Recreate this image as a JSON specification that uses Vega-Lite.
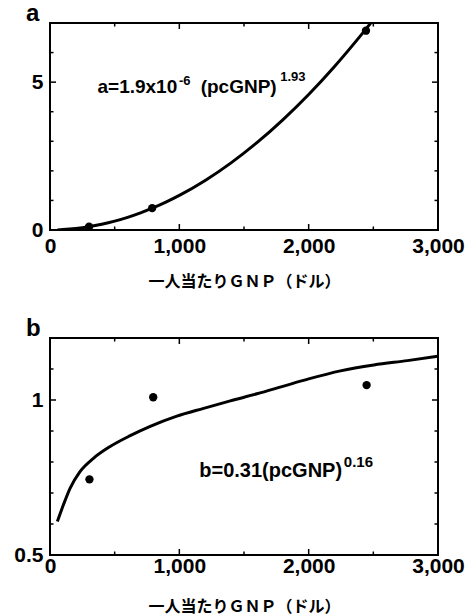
{
  "$schema": "https://vega.github.io/schema/vega-lite/v6.json",
  "padding": {"left": 12, "top": 1, "right": 4, "bottom": 0},
  "config": {
    "view": {"stroke": "black", "strokeWidth": 2},
    "font": "Liberation Sans",
    "axis": {"domain": false, "grid": false, "ticks": false, "labelFont": "Liberation Sans", "labelFontSize": 21, "labelFontWeight": "bold", "labelColor": "black", "minExtent": 0, "labelOverlap": false, "labelFlush": false, "titleFont": "Noto Sans CJK JP", "titleFontSize": 16, "titleFontWeight": "bold", "titleColor": "black"},
    "concat": {"spacing": 26},
    "title": {"font": "Liberation Sans", "fontSize": 24, "fontWeight": "bold", "color": "black", "anchor": "start", "frame": "group"}
  },
  "datasets": {
    "curveA": [
      {"gnp": 57, "a": 0.004}, {"gnp": 100, "a": 0.013}, {"gnp": 200, "a": 0.049}, {"gnp": 300, "a": 0.109},
      {"gnp": 400, "a": 0.193}, {"gnp": 500, "a": 0.299}, {"gnp": 600, "a": 0.428}, {"gnp": 700, "a": 0.58},
      {"gnp": 800, "a": 0.754}, {"gnp": 900, "a": 0.951}, {"gnp": 1000, "a": 1.17}, {"gnp": 1200, "a": 1.676},
      {"gnp": 1400, "a": 2.27}, {"gnp": 1600, "a": 2.954}, {"gnp": 1800, "a": 3.726}, {"gnp": 2000, "a": 4.584},
      {"gnp": 2200, "a": 5.532}, {"gnp": 2400, "a": 6.566}, {"gnp": 2480, "a": 7.0}
    ],
    "ptsA": [
      {"gnp": 302, "a": 0.11}, {"gnp": 790, "a": 0.74}, {"gnp": 2443, "a": 6.74}
    ],
    "curveB": [
      {"gnp": 57, "b": 0.608}, {"gnp": 103, "b": 0.661}, {"gnp": 155, "b": 0.715}, {"gnp": 232, "b": 0.769},
      {"gnp": 336, "b": 0.812}, {"gnp": 465, "b": 0.85}, {"gnp": 620, "b": 0.885}, {"gnp": 775, "b": 0.915},
      {"gnp": 981, "b": 0.948}, {"gnp": 1188, "b": 0.973}, {"gnp": 1394, "b": 0.997}, {"gnp": 1600, "b": 1.02},
      {"gnp": 1800, "b": 1.044}, {"gnp": 2000, "b": 1.068}, {"gnp": 2246, "b": 1.094}, {"gnp": 2504, "b": 1.113},
      {"gnp": 2763, "b": 1.127}, {"gnp": 3000, "b": 1.141}
    ],
    "ptsB": [
      {"gnp": 305, "b": 0.744}, {"gnp": 798, "b": 1.009}, {"gnp": 2448, "b": 1.048}
    ],
    "xticks": [{"v": 0}, {"v": 500}, {"v": 1000}, {"v": 1500}, {"v": 2000}, {"v": 2500}, {"v": 3000}],
    "yticksA": [{"v": 0}, {"v": 1}, {"v": 2}, {"v": 3}, {"v": 4}, {"v": 5}, {"v": 6}, {"v": 7}],
    "yticksB": [{"v": 0.5}, {"v": 0.6}, {"v": 0.7}, {"v": 0.8}, {"v": 0.9}, {"v": 1.0}, {"v": 1.1}, {"v": 1.2}]
  },
  "vconcat": [
    {
      "width": 388,
      "height": 207,
      "title": {"text": "a", "dx": -24, "offset": -3},
      "layer": [
        {
          "data": {"name": "curveA"},
          "mark": {"type": "line", "color": "black", "strokeWidth": 3, "clip": true, "interpolate": "monotone"},
          "encoding": {
            "x": {"field": "gnp", "type": "quantitative", "scale": {"domain": [0, 3000], "nice": false},
              "axis": {"orient": "bottom", "values": [0, 1000, 2000, 3000], "format": ",d",
                "labelPadding": 5, "title": "一人当たりＧＮＰ（ドル）", "titlePadding": 17}},
            "y": {"field": "a", "type": "quantitative", "scale": {"domain": [0, 7], "nice": false},
              "axis": {"orient": "left", "values": [0, 5], "format": "d", "labelPadding": 7, "title": null}}
          }
        },
        {
          "data": {"name": "ptsA"},
          "mark": {"type": "circle", "color": "black", "opacity": 1, "size": 70},
          "encoding": {
            "x": {"field": "gnp", "type": "quantitative", "axis": {"orient": "top", "labels": false, "title": null}},
            "y": {"field": "a", "type": "quantitative", "axis": {"orient": "right", "labels": false, "title": null}}
          }
        },
        {
          "data": {"name": "xticks"},
          "mark": {"type": "tick", "orient": "vertical", "color": "black", "thickness": 1.5, "opacity": 1, "clip": true, "zindex": 3},
          "encoding": {
            "x": {"field": "v", "type": "quantitative", "axis": null},
            "y": {"datum": 0, "type": "quantitative", "axis": null},
            "size": {"condition": {"test": "datum.v % 1000 === 0", "value": 12}, "value": 7}
          }
        },
        {
          "data": {"name": "xticks"},
          "mark": {"type": "tick", "orient": "vertical", "color": "black", "thickness": 1.5, "opacity": 1, "clip": true, "zindex": 3},
          "encoding": {
            "x": {"field": "v", "type": "quantitative", "axis": null},
            "y": {"datum": 7, "type": "quantitative", "axis": null},
            "size": {"condition": {"test": "datum.v % 1000 === 0", "value": 12}, "value": 7}
          }
        },
        {
          "data": {"name": "yticksA"},
          "mark": {"type": "tick", "orient": "horizontal", "color": "black", "thickness": 1.5, "opacity": 1, "clip": true, "zindex": 3},
          "encoding": {
            "y": {"field": "v", "type": "quantitative", "axis": null},
            "x": {"datum": 0, "type": "quantitative", "axis": null},
            "size": {"condition": {"test": "datum.v === 5", "value": 12}, "value": 7}
          }
        },
        {
          "data": {"name": "yticksA"},
          "mark": {"type": "tick", "orient": "horizontal", "color": "black", "thickness": 1.5, "opacity": 1, "clip": true, "zindex": 3},
          "encoding": {
            "y": {"field": "v", "type": "quantitative", "axis": null},
            "x": {"datum": 3000, "type": "quantitative", "axis": null},
            "size": {"condition": {"test": "datum.v === 5", "value": 12}, "value": 7}
          }
        },
        {
          "data": {"values": [{}]},
          "mark": {"type": "text", "align": "left", "baseline": "alphabetic", "fontSize": 19, "fontWeight": "bold", "font": "Liberation Sans", "color": "black"},
          "encoding": {
            "x": {"datum": 367, "type": "quantitative", "axis": null},
            "y": {"datum": 4.63, "type": "quantitative", "axis": null},
            "text": {"value": "a=1.9x10"}
          }
        },
        {
          "data": {"values": [{}]},
          "mark": {"type": "text", "align": "left", "baseline": "alphabetic", "fontSize": 13, "fontWeight": "bold", "font": "Liberation Sans", "color": "black"},
          "encoding": {
            "x": {"datum": 997, "type": "quantitative", "axis": null},
            "y": {"datum": 4.92, "type": "quantitative", "axis": null},
            "text": {"value": "-6"}
          }
        },
        {
          "data": {"values": [{}]},
          "mark": {"type": "text", "align": "left", "baseline": "alphabetic", "fontSize": 19, "fontWeight": "bold", "font": "Liberation Sans", "color": "black"},
          "encoding": {
            "x": {"datum": 1165, "type": "quantitative", "axis": null},
            "y": {"datum": 4.63, "type": "quantitative", "axis": null},
            "text": {"value": "(pcGNP)"}
          }
        },
        {
          "data": {"values": [{}]},
          "mark": {"type": "text", "align": "left", "baseline": "alphabetic", "fontSize": 13, "fontWeight": "bold", "font": "Liberation Sans", "color": "black"},
          "encoding": {
            "x": {"datum": 1780, "type": "quantitative", "axis": null},
            "y": {"datum": 5.05, "type": "quantitative", "axis": null},
            "text": {"value": "1.93"}
          }
        }
      ]
    },
    {
      "width": 388,
      "height": 217,
      "title": {"text": "b", "dx": -24, "offset": -3},
      "layer": [
        {
          "data": {"name": "curveB"},
          "mark": {"type": "line", "color": "black", "strokeWidth": 3, "clip": true, "interpolate": "monotone"},
          "encoding": {
            "x": {"field": "gnp", "type": "quantitative", "scale": {"domain": [0, 3000], "nice": false},
              "axis": {"orient": "bottom", "values": [0, 1000, 2000, 3000], "format": ",d",
                "labelPadding": 0, "title": "一人当たりＧＮＰ（ドル）", "titlePadding": 22}},
            "y": {"field": "b", "type": "quantitative", "scale": {"domain": [0.5, 1.2], "nice": false, "zero": false},
              "axis": {"orient": "left", "values": [0.5, 1], "labelExpr": "datum.value === 1 ? '1' : '0.5'", "labelPadding": 7, "title": null}}
          }
        },
        {
          "data": {"name": "ptsB"},
          "mark": {"type": "circle", "color": "black", "opacity": 1, "size": 70},
          "encoding": {
            "x": {"field": "gnp", "type": "quantitative", "axis": {"orient": "top", "labels": false, "title": null}},
            "y": {"field": "b", "type": "quantitative", "axis": {"orient": "right", "labels": false, "title": null}}
          }
        },
        {
          "data": {"name": "xticks"},
          "mark": {"type": "tick", "orient": "vertical", "color": "black", "thickness": 1.5, "opacity": 1, "clip": true, "zindex": 3},
          "encoding": {
            "x": {"field": "v", "type": "quantitative", "axis": null},
            "y": {"datum": 0.5, "type": "quantitative", "axis": null},
            "size": {"condition": {"test": "datum.v % 1000 === 0", "value": 12}, "value": 7}
          }
        },
        {
          "data": {"name": "xticks"},
          "mark": {"type": "tick", "orient": "vertical", "color": "black", "thickness": 1.5, "opacity": 1, "clip": true, "zindex": 3},
          "encoding": {
            "x": {"field": "v", "type": "quantitative", "axis": null},
            "y": {"datum": 1.2, "type": "quantitative", "axis": null},
            "size": {"condition": {"test": "datum.v % 1000 === 0", "value": 12}, "value": 7}
          }
        },
        {
          "data": {"name": "yticksB"},
          "mark": {"type": "tick", "orient": "horizontal", "color": "black", "thickness": 1.5, "opacity": 1, "clip": true, "zindex": 3},
          "encoding": {
            "y": {"field": "v", "type": "quantitative", "axis": null},
            "x": {"datum": 0, "type": "quantitative", "axis": null},
            "size": {"condition": {"test": "datum.v === 1", "value": 12}, "value": 7}
          }
        },
        {
          "data": {"name": "yticksB"},
          "mark": {"type": "tick", "orient": "horizontal", "color": "black", "thickness": 1.5, "opacity": 1, "clip": true, "zindex": 3},
          "encoding": {
            "y": {"field": "v", "type": "quantitative", "axis": null},
            "x": {"datum": 3000, "type": "quantitative", "axis": null},
            "size": {"condition": {"test": "datum.v === 1", "value": 12}, "value": 7}
          }
        },
        {
          "data": {"values": [{}]},
          "mark": {"type": "text", "align": "left", "baseline": "alphabetic", "fontSize": 20, "fontWeight": "bold", "font": "Liberation Sans", "color": "black"},
          "encoding": {
            "x": {"datum": 1154, "type": "quantitative", "axis": null},
            "y": {"datum": 0.753, "type": "quantitative", "axis": null},
            "text": {"value": "b=0.31(pcGNP)"}
          }
        },
        {
          "data": {"values": [{}]},
          "mark": {"type": "text", "align": "left", "baseline": "alphabetic", "fontSize": 15, "fontWeight": "bold", "font": "Liberation Sans", "color": "black"},
          "encoding": {
            "x": {"datum": 2272, "type": "quantitative", "axis": null},
            "y": {"datum": 0.785, "type": "quantitative", "axis": null},
            "text": {"value": "0.16"}
          }
        }
      ]
    }
  ]
}
